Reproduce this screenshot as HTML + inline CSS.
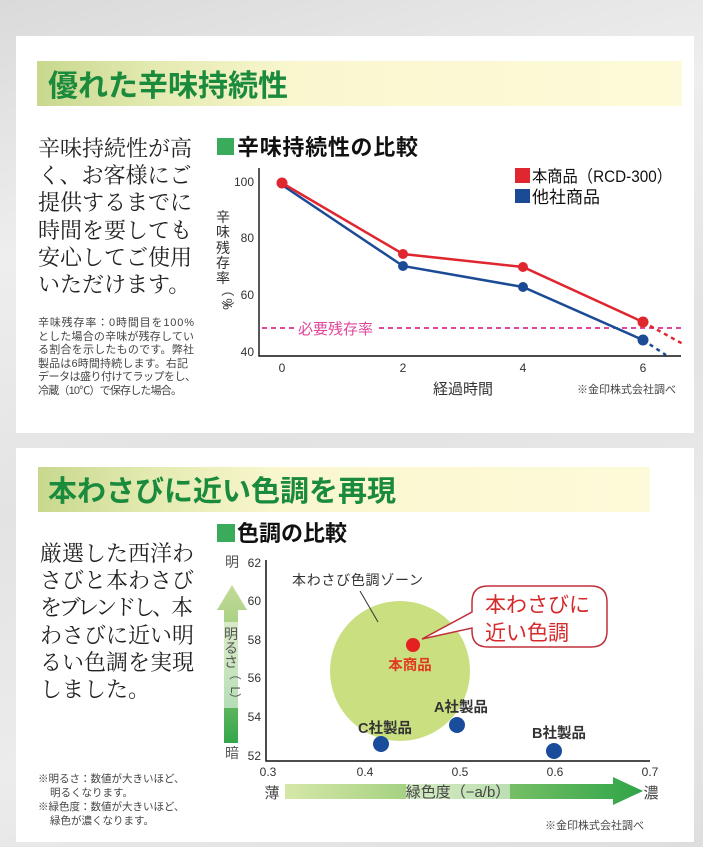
<!DOCTYPE html>
<html><head><meta charset="utf-8">
<style>
html,body{margin:0;padding:0;}
body{width:703px;height:847px;overflow:hidden;background:linear-gradient(165deg,#dadada 0%,#eeeeee 25%,#e3e3e3 50%,#ececec 75%,#dedede 100%);position:relative;}
svg{position:absolute;left:0;top:0;}
.s{font-family:"Liberation Sans","Noto Sans CJK JP",sans-serif;}
.m{font-family:"Liberation Serif","Noto Serif CJK SC",serif;}
</style></head><body>
<svg width="703" height="847" viewBox="0 0 703 847" xmlns="http://www.w3.org/2000/svg">
<defs>
<linearGradient id="band" x1="0" x2="1" y1="0" y2="0">
<stop offset="0" stop-color="#c8d88e"/><stop offset="0.18" stop-color="#e3eab0"/><stop offset="0.4" stop-color="#faf7cf"/><stop offset="1" stop-color="#fdfad9"/>
</linearGradient>
<linearGradient id="varr" x1="0" x2="0" y1="0" y2="1">
<stop offset="0" stop-color="#c4da96"/><stop offset="0.5" stop-color="#8cc774"/><stop offset="1" stop-color="#35a64a"/>
</linearGradient>
<linearGradient id="harr" x1="0" x2="1" y1="0" y2="0">
<stop offset="0" stop-color="#d6e7a8"/><stop offset="0.5" stop-color="#8fc870"/><stop offset="1" stop-color="#2ea447"/>
</linearGradient>
</defs>

<!-- panels -->
<rect x="16" y="36" width="678" height="397" fill="#ffffff"/>
<rect x="16" y="448" width="678" height="394" fill="#ffffff"/>

<!-- title bands -->
<rect x="37" y="61" width="645" height="45" fill="url(#band)"/>
<text x="48" y="96" class="s" font-size="30" font-weight="bold" fill="#1a8a3c">優れた辛味持続性</text>
<rect x="38" y="467" width="612" height="45" fill="url(#band)"/>
<text x="48" y="501" class="s" font-size="29" font-weight="bold" fill="#1a8a3c">本わさびに近い色調を再現</text>

<!-- panel 1 left text -->
<g class="m" font-size="22" fill="#222">
<text x="38" y="156">辛味持続性が高</text>
<text x="38" y="183">く、お客様にご</text>
<text x="38" y="210">提供するまでに</text>
<text x="38" y="238">時間を要しても</text>
<text x="38" y="265">安心してご使用</text>
<text x="38" y="292">いただけます。</text>
</g>
<g class="s" font-size="11" fill="#444">
<text x="38" y="326" textLength="156" lengthAdjust="spacing">辛味残存率：0時間目を100%</text>
<text x="38" y="340" textLength="156" lengthAdjust="spacing">とした場合の辛味が残存してい</text>
<text x="38" y="353" textLength="156" lengthAdjust="spacing">る割合を示したものです。弊社</text>
<text x="38" y="367" textLength="150" lengthAdjust="spacing">製品は6時間持続します。右記</text>
<text x="38" y="380" textLength="158" lengthAdjust="spacing">データは盛り付けてラップをし、</text>
<text x="38" y="394" textLength="144" lengthAdjust="spacing">冷蔵（10℃）で保存した場合。</text>
</g>

<!-- chart 1 -->
<rect x="217" y="138" width="17" height="17" fill="#3aab5a"/>
<text x="237" y="155" class="s" font-size="22" font-weight="bold" fill="#111" textLength="181" lengthAdjust="spacing">辛味持続性の比較</text>

<rect x="515" y="168" width="15" height="15" fill="#e0262f"/>
<text x="532" y="182" class="s" font-size="16.5" fill="#111" textLength="140" lengthAdjust="spacingAndGlyphs">本商品（RCD-300）</text>
<rect x="515" y="189" width="15" height="14" fill="#1c4b96"/>
<text x="532" y="203" class="s" font-size="17" fill="#111">他社商品</text>

<g class="s" font-size="12" fill="#333" text-anchor="end">
<text x="254" y="186">100</text><text x="254" y="242">80</text><text x="254" y="299">60</text><text x="254" y="356">40</text>
</g>
<g class="s" font-size="12" fill="#333" text-anchor="middle">
<text x="282" y="372">0</text><text x="403" y="372">2</text><text x="523" y="372">4</text><text x="643" y="372">6</text>
</g>
<g class="s" font-size="14" fill="#333" text-anchor="middle">
<text x="223" y="222">辛</text><text x="223" y="237">味</text><text x="223" y="253">残</text><text x="223" y="268">存</text><text x="223" y="283">率</text>
<text x="223" y="290" transform="rotate(90 223 290)" font-size="13">（</text>
<text x="227" y="300" transform="rotate(90 223 300)" font-size="13">%</text>
<text x="223" y="308" transform="rotate(90 223 308)" font-size="13">）</text>
</g>

<line x1="262" y1="328" x2="681" y2="328" stroke="#e0479a" stroke-width="2" stroke-dasharray="5 4"/>
<rect x="294" y="319" width="83" height="18" fill="#fff"/>
<text x="298" y="334" class="s" font-size="15" fill="#e0479a">必要残存率</text>

<path d="M259 168 V356 H681" fill="none" stroke="#111" stroke-width="1.4"/>

<polyline points="282,185 403,266 523,287 643,340" fill="none" stroke="#1c4b96" stroke-width="2.5"/>
<line x1="643" y1="340" x2="666" y2="355" stroke="#1c4b96" stroke-width="2.5" stroke-dasharray="4 4"/>
<polyline points="282,183 403,254 523,267 643,322" fill="none" stroke="#e0262f" stroke-width="2.5"/>
<line x1="643" y1="322" x2="683" y2="344" stroke="#e0262f" stroke-width="2.5" stroke-dasharray="4 4"/>
<g fill="#1c4b96"><circle cx="403" cy="266" r="5"/><circle cx="523" cy="287" r="5"/><circle cx="643" cy="340" r="5.5"/></g>
<g fill="#e0262f"><circle cx="282" cy="183" r="5.5"/><circle cx="403" cy="254" r="5"/><circle cx="523" cy="267" r="5"/><circle cx="643" cy="322" r="5.5"/></g>

<text x="463" y="394" class="s" font-size="15" fill="#333" text-anchor="middle">経過時間</text>
<text x="577" y="393" class="s" font-size="11" fill="#444">※金印株式会社調べ</text>

<!-- panel 2 left text -->
<g class="m" font-size="22" fill="#222">
<text x="40" y="561">厳選した西洋わ</text>
<text x="40" y="588">さびと本わさび</text>
<text x="40" y="615" textLength="153" lengthAdjust="spacing">をブレンドし、本</text>
<text x="40" y="643">わさびに近い明</text>
<text x="40" y="670">るい色調を実現</text>
<text x="40" y="697">しました。</text>
</g>
<g class="s" font-size="10.5" fill="#444">
<text x="38" y="782">※明るさ：数値が大きいほど、</text>
<text x="50" y="796">明るくなります。</text>
<text x="38" y="810">※緑色度：数値が大きいほど、</text>
<text x="50" y="824">緑色が濃くなります。</text>
</g>

<!-- chart 2 -->
<rect x="217" y="524" width="18" height="18" fill="#3aab5a"/>
<text x="237" y="541" class="s" font-size="22" font-weight="bold" fill="#111">色調の比較</text>

<!-- vertical arrow -->
<path d="M232 585 L247 610 L238 610 L238 743 L224 743 L224 610 L217 610 Z" fill="url(#varr)"/>
<rect x="223" y="622" width="16" height="86" fill="#ffffff" opacity="0.55"/>
<g class="s" font-size="14" fill="#555" text-anchor="middle">
<text x="232" y="567">明</text>
<text x="232" y="758">暗</text>
<text x="231" y="639">明</text><text x="231" y="653">る</text><text x="231" y="667">さ</text>
<text x="231" y="674" transform="rotate(90 231 674)" font-size="12">（</text>
<text x="235" y="686" transform="rotate(90 231 686)" font-size="13">L</text>
<text x="231" y="699" transform="rotate(90 231 699)" font-size="12">）</text>
</g>

<g class="s" font-size="12" fill="#333" text-anchor="end">
<text x="261" y="567">62</text><text x="261" y="605">60</text><text x="261" y="644">58</text><text x="261" y="682">56</text><text x="261" y="721">54</text><text x="261" y="760">52</text>
</g>
<g class="s" font-size="12" fill="#333" text-anchor="middle">
<text x="268" y="776">0.3</text><text x="365" y="776">0.4</text><text x="460" y="776">0.5</text><text x="555" y="776">0.6</text><text x="650" y="776">0.7</text>
</g>

<circle cx="400" cy="671" r="70" fill="#c9df80"/>
<text x="292" y="585" class="s" font-size="14" fill="#333" textLength="131" lengthAdjust="spacing">本わさび色調ゾーン</text>
<line x1="360" y1="591" x2="378" y2="622" stroke="#333" stroke-width="1"/>

<path d="M266 560 V761 H650" fill="none" stroke="#111" stroke-width="1.5"/>

<path d="M488 586 H591 Q607 586 607 602 V631 Q607 647 591 647 H488 Q472 647 472 631 V628 L422 639 L472 612 V602 Q472 586 488 586 Z" fill="#fff" stroke="#c0303a" stroke-width="1.5"/>
<text x="485" y="612" class="s" font-size="21" fill="#d42a2a">本わさびに</text>
<text x="485" y="640" class="s" font-size="21" fill="#d42a2a">近い色調</text>

<circle cx="413" cy="645" r="7" fill="#e42020"/>
<text x="410" y="670" class="s" font-size="14.5" font-weight="bold" fill="#e03a20" text-anchor="middle">本商品</text>

<g fill="#1a4c9c"><circle cx="381" cy="744" r="8"/><circle cx="457" cy="725" r="8"/><circle cx="554" cy="751" r="8"/></g>
<g class="s" font-size="14.5" font-weight="bold" fill="#333" text-anchor="middle">
<text x="385" y="733">C社製品</text>
<text x="461" y="712">A社製品</text>
<text x="559" y="738">B社製品</text>
</g>

<!-- horizontal arrow -->
<path d="M285 784 H613 V777 L643 791 L613 805 V799 H285 Z" fill="url(#harr)"/>
<rect x="406" y="783" width="104" height="17" fill="#ffffff" opacity="0.5"/>
<g class="s" font-size="15" fill="#444" text-anchor="middle">
<text x="272" y="798">薄</text>
<text x="651" y="798">濃</text>
<text x="458" y="797">緑色度（−a/b）</text>
</g>
<text x="545" y="829" class="s" font-size="11" fill="#444">※金印株式会社調べ</text>
</svg>
</body></html>
